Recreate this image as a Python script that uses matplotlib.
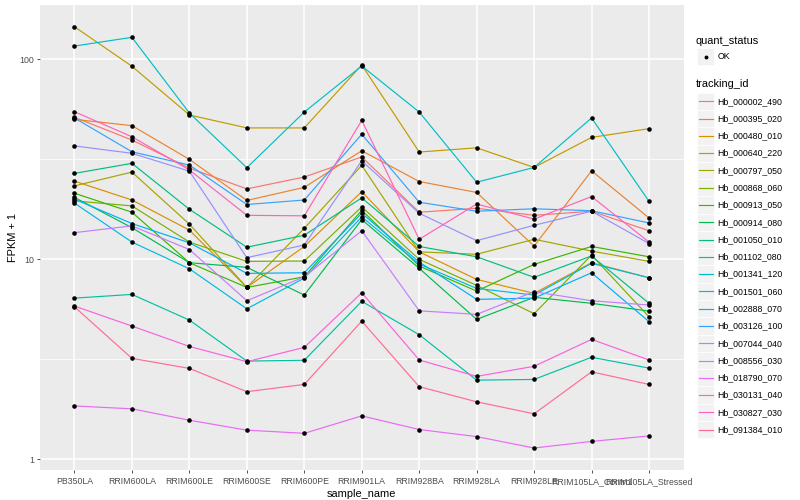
import matplotlib
matplotlib.use("Agg")
import matplotlib.pyplot as plt
import numpy as np
from matplotlib.patches import Rectangle
from matplotlib.ticker import FixedLocator

plt.rcParams['font.family'] = ['Liberation Sans', 'DejaVu Sans']

samples = ["PB350LA", "RRIM600LA", "RRIM600LE", "RRIM600SE", "RRIM600PE",
           "RRIM901LA", "RRIM928BA", "RRIM928LA", "RRIM928LE",
           "RRIM105LA_Control", "RRIM105LA_Stressed"]

tracking_ids = ["Hb_000002_490", "Hb_000395_020", "Hb_000480_010", "Hb_000640_220",
                "Hb_000797_050", "Hb_000868_060", "Hb_000913_050", "Hb_000914_080",
                "Hb_001050_010", "Hb_001102_080", "Hb_001341_120", "Hb_001501_060",
                "Hb_002888_070", "Hb_003126_100", "Hb_007044_040", "Hb_008556_030",
                "Hb_018790_070", "Hb_030131_040", "Hb_030827_030", "Hb_091384_010"]

colors = ["#F8766D", "#EA8331", "#D89000", "#C09B00", "#A3A500", "#7CAE00",
          "#39B600", "#00BB4E", "#00BF7D", "#00C1A3", "#00BFC4", "#00BAE0",
          "#00B0F6", "#35A2FF", "#9590FF", "#C77CFF", "#E76BF3", "#FA62DB",
          "#FF62BC", "#FF6C91"]

# FPKM + 1 values per tracking id (order of samples)
hb_000002_490 = [51.3, 39.5, 28.6, 22.5, 25.8, 32.5, 17.2, 18.0, 16.6, 17.4, 13.9]
hb_000395_020 = [50.1, 46.6, 31.6, 19.7, 22.9, 34.9, 24.5, 21.6, 11.65, 27.7, 16.1]
hb_000480_010 = [24.6, 19.8, 14.0, 7.24, 11.6, 21.8, 10.9, 7.94, 6.76, 9.62, 8.09]
hb_000640_220 = [145.5, 92.3, 52.7, 45.4, 45.4, 93.7, 34.4, 36.1, 28.8, 40.7, 45.0]
hb_000797_050 = [23.3, 27.3, 15.0, 7.24, 14.3, 29.5, 10.9, 10.6, 12.6, 11.0, 9.77]
hb_000868_060 = [19.6, 18.5, 12.2, 9.77, 9.81, 18.3, 10.0, 7.41, 5.35, 10.5, 5.16]
hb_000913_050 = [21.4, 17.2, 9.62, 7.24, 8.18, 17.6, 9.26, 6.94, 9.44, 11.6, 10.3]
hb_000914_080 = [20.4, 14.4, 9.62, 9.12, 6.63, 15.8, 9.02, 5.01, 6.46, 6.03, 5.51]
hb_001050_010 = [26.9, 30.2, 17.8, 11.5, 13.2, 20.3, 11.6, 10.3, 8.13, 10.4, 6.03]
hb_001102_080 = [6.40, 6.68, 4.97, 3.10, 3.13, 6.17, 4.20, 2.49, 2.51, 3.24, 2.86]
hb_001341_120 = [116.5, 128.8, 53.9, 28.7, 54.5, 92.6, 54.5, 24.3, 28.8, 50.9, 19.5]
hb_001501_060 = [19.1, 12.2, 8.97, 5.66, 8.06, 16.3, 9.47, 7.16, 6.63, 9.55, 8.09]
hb_002888_070 = [20.0, 15.1, 12.1, 8.51, 8.57, 17.0, 9.69, 6.31, 6.40, 8.57, 4.88]
hb_003126_100 = [50.9, 34.5, 29.6, 18.8, 19.8, 42.2, 19.3, 17.4, 17.9, 17.5, 15.2]
hb_007044_040 = [36.9, 33.9, 27.6, 10.2, 11.8, 31.1, 17.0, 12.4, 14.8, 17.4, 12.0]
hb_008556_030 = [13.6, 14.7, 11.2, 6.21, 8.18, 13.9, 5.53, 5.31, 6.89, 6.21, 5.91]
hb_018790_070 = [1.85, 1.79, 1.57, 1.40, 1.35, 1.65, 1.41, 1.30, 1.14, 1.23, 1.31]
hb_030131_040 = [5.84, 4.64, 3.67, 3.08, 3.63, 6.81, 3.14, 2.60, 2.92, 3.98, 3.14]
hb_030827_030 = [54.7, 41.0, 28.0, 16.6, 16.5, 49.5, 12.6, 18.9, 15.9, 20.6, 12.2]
hb_091384_010 = [5.79, 3.20, 2.85, 2.18, 2.37, 4.91, 2.31, 1.94, 1.69, 2.74, 2.37]

series = [hb_000002_490, hb_000395_020, hb_000480_010, hb_000640_220, hb_000797_050,
          hb_000868_060, hb_000913_050, hb_000914_080, hb_001050_010, hb_001102_080,
          hb_001341_120, hb_001501_060, hb_002888_070, hb_003126_100, hb_007044_040,
          hb_008556_030, hb_018790_070, hb_030131_040, hb_030827_030, hb_091384_010]

W, H = 800, 500
fig = plt.figure(figsize=(8, 5), dpi=100)
pl, pr, pt, pb = 40, 683.5, 5, 470
ax = fig.add_axes([pl / W, (H - pb) / H, (pr - pl) / W, (pb - pt) / H])
ax.set_facecolor('#EBEBEB')
for s in ax.spines.values():
    s.set_visible(False)

x = np.arange(len(samples))
for vals, col in zip(series, colors):
    ax.plot(x, vals, color=col, lw=0.85, zorder=2, solid_capstyle='butt')
for vals in series:
    ax.plot(x, vals, 'o', color='black', ms=3.3, zorder=3, mew=0)

ax.set_yscale('log')
ax.set_xlim(-0.6, len(samples) - 0.4)
ax.set_ylim(10 ** -0.053, 10 ** 2.2715)
ax.set_yticks([1, 10, 100])
ax.set_yticklabels(["1", "10", "100"])
ax.yaxis.set_minor_locator(FixedLocator([10 ** 0.5, 10 ** 1.5]))
ax.yaxis.set_minor_formatter(plt.NullFormatter())
ax.set_xticks(x)
ax.set_xticklabels(samples)
ax.grid(True, which='major', color='white', lw=1.1, zorder=0)
ax.grid(True, which='minor', axis='y', color='white', lw=0.55, zorder=0)
ax.set_axisbelow(True)
ax.tick_params(axis='both', which='major', length=2.5, width=0.6, color='#333333',
               labelsize=6.3, labelcolor='#4D4D4D', pad=1.8)
ax.tick_params(axis='x', which='major', pad=2.5)
ax.tick_params(axis='y', which='minor', length=0)
ax.set_xlabel("sample_name", fontsize=7.9, labelpad=2)
ax.set_ylabel("FPKM + 1", fontsize=7.9, labelpad=1)

# legend drawn in pixel coordinates
lax = fig.add_axes([0, 0, 1, 1])
lax.set_xlim(0, W)
lax.set_ylim(H, 0)
lax.axis('off')
key = 17.28
kx = 697
lax.text(kx - 1, 40.7, "quant_status", fontsize=7.9, va='center', ha='left')
lax.add_patch(Rectangle((kx, 56.6 - key / 2), key, key, facecolor='#F2F2F2',
                        edgecolor='white', lw=0.5))
lax.plot([kx + key / 2], [56.6], 'o', color='black', ms=2.8, mew=0)
lax.text(kx + key + 3, 56.6, "OK", fontsize=6.3, va='center', ha='left')
lax.text(kx - 1, 84.3, "tracking_id", fontsize=7.9, va='center', ha='left')
y0 = 101.3
for i, (tid, col) in enumerate(zip(tracking_ids, colors)):
    yc = y0 + i * key
    lax.add_patch(Rectangle((kx, yc - key / 2), key, key, facecolor='#F2F2F2',
                            edgecolor='white', lw=0.5))
    lax.plot([kx + 1.7, kx + key - 1.7], [yc, yc], color=col, lw=0.85)
    lax.text(kx + key + 3, yc, tid, fontsize=6.3, va='center', ha='left')

fig.savefig("out.png", dpi=100)
